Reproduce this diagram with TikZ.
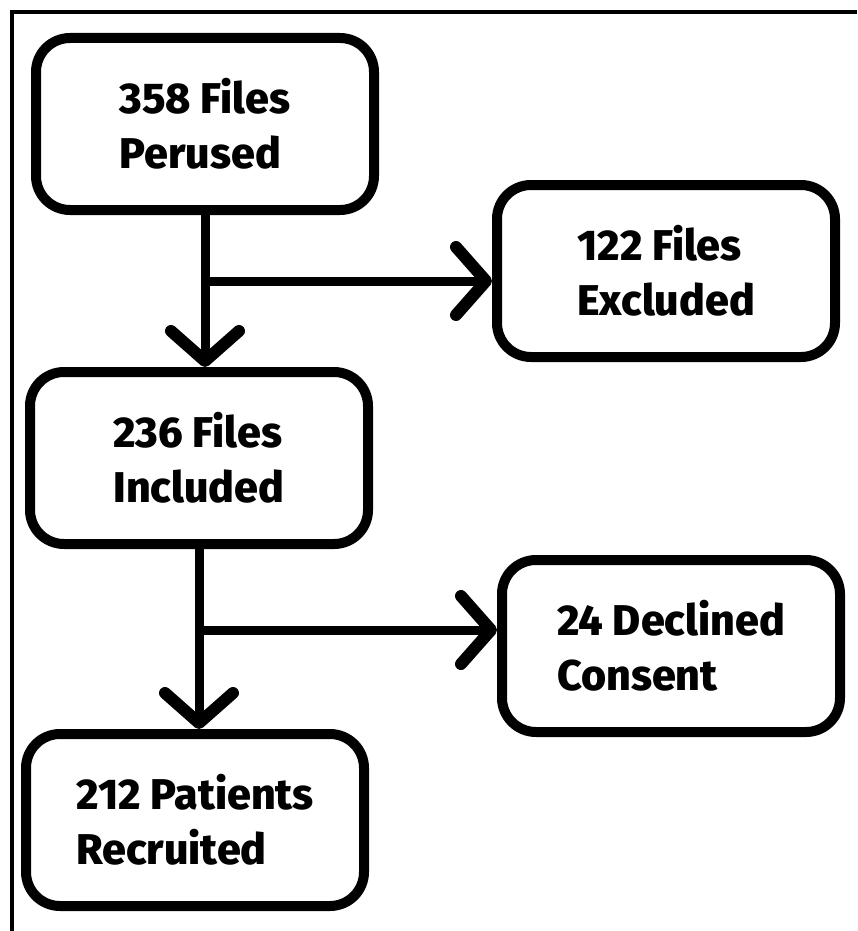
\documentclass[tikz,border=0pt]{standalone}
\usepackage{fontspec}
\setmainfont{Fira Sans}[BoldFont={Fira Sans ExtraBold}]
\usepackage{tikz}
\usetikzlibrary{arrows.meta,positioning}

\begin{document}
\begin{tikzpicture}[x=0.5pt,y=-0.5pt,
    >={Straight Barb[length=15pt,width=34pt,line width=6pt,round]},
    arrow/.style={->,line width=4.5pt},
    every node/.style={font=\fontsize{21.5}{27.5}\selectfont\bfseries,align=left}]
  \tikzstyle{stage}=[draw,line width=5pt,rounded corners=17pt,
                     minimum width=169pt,minimum height=86pt]

  \useasboundingbox (0,0) rectangle (857,931);
  % frame (only top and left edges show)
  \draw[line width=2pt] (12,931) -- (12,12) -- (857,12);

  \node[stage] (perused)    at (205,124) {358 Files\\Perused};
  \node[stage] (excluded)   at (666,271) {122 Files\\Excluded};
  \node[stage] (included)   at (199,458) {236 Files\\Included};
  \node[stage] (declined)   at (671,646) {24 Declined\\Consent};
  \node[stage] (recruited)  at (195,820) {212 Patients\\Recruited};

  % heights of the side branches
  \coordinate (split1) at (0,281);
  \coordinate (split2) at (0,630);

  \draw[arrow] (perused.south) -- (perused.south |- included.north);
  \draw[arrow] (perused.south |- split1) -- (excluded.west |- split1);
  \draw[arrow] (included.south) -- (included.south |- recruited.north);
  \draw[arrow] (included.south |- split2) -- (declined.west |- split2);
\end{tikzpicture}
\end{document}
